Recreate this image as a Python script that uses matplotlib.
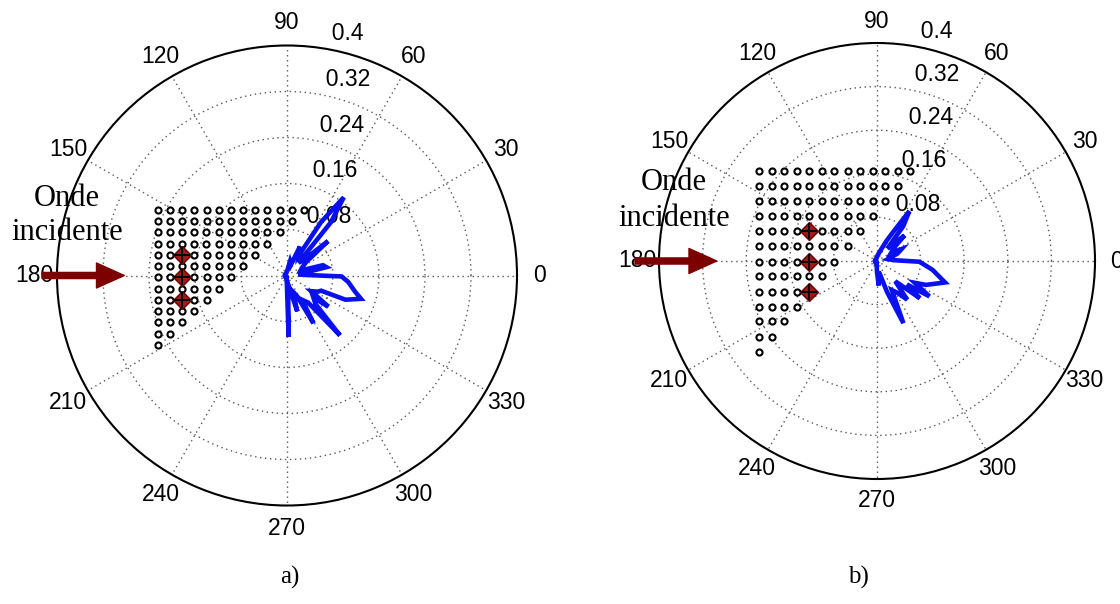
import numpy as np
import matplotlib
matplotlib.use("Agg")
import matplotlib.pyplot as plt
from matplotlib.patches import FancyArrowPatch

# ---------------- data ----------------
R_MAX = 0.4
ring_values = [0.08, 0.16, 0.24, 0.32]
ring_labels = ["0.08", "0.16", "0.24", "0.32", "0.4"]
angle_ticks = [0, 30, 60, 90, 120, 150, 180, 210, 240, 270, 300, 330]

# radiation pattern, panel a (angle in degrees, radius)
theta_a = [-100, -90, -88.5, -86, -80, -74, -70, -64, -61, -58, -52, -48.5, -45,
           -40, -37, -33, -28, -24, -22.5, -17.5, -13.5, -6, -1, 2, 6, 12, 16,
           20, 28, 35, 40, 43, 48, 50.5, 54, 57.5, 59.5, 66, 70, 78, 85, 100,
           140, 180, 220, 260]
r_a = [0.004, 0.02, 0.107, 0.03, 0.02, 0.065, 0.03, 0.04, 0.095, 0.05, 0.06,
       0.139, 0.07, 0.06, 0.09, 0.05, 0.06, 0.065, 0.11, 0.135, 0.122, 0.107,
       0.095, 0.03, 0.02, 0.07, 0.065, 0.025, 0.03, 0.04, 0.093, 0.04, 0.03,
       0.12, 0.168, 0.11, 0.04, 0.055, 0.02, 0.025, 0.01, 0.005, 0.004, 0.004,
       0.004, 0.004]

# radiation pattern, panel b
theta_b = [-100, -90, -86, -80, -72, -67, -63, -57, -52, -48, -41, -38, -34,
           -30, -26, -17.5, -9, -1, 3, 10, 20, 26, 30, 38, 43, 46, 50, 53, 57,
           61, 65, 72, 85, 100, 140, 180, 220, 260]
r_b = [0.004, 0.02, 0.045, 0.02, 0.06, 0.124, 0.06, 0.07, 0.09, 0.05, 0.104,
       0.07, 0.116, 0.08, 0.1, 0.131, 0.103, 0.078, 0.03, 0.02, 0.04, 0.05,
       0.03, 0.04, 0.069, 0.04, 0.03, 0.08, 0.109, 0.06, 0.04, 0.02, 0.01,
       0.005, 0.004, 0.004, 0.004, 0.004]

# receiver grid (cartesian positions), triangular layout: row j has 13-j points
grid_a_x = [-0.224, -0.203, -0.182, -0.161, -0.140, -0.118, -0.097, -0.076,
            -0.055, -0.034, -0.013, 0.008, 0.029]
grid_a_y = [0.114, 0.094, 0.075, 0.055, 0.036, 0.016, -0.003, -0.023, -0.042,
            -0.062, -0.081, -0.101, -0.121]
grid_b_x = [-0.216, -0.193, -0.170, -0.147, -0.124, -0.101, -0.078, -0.054,
            -0.031, -0.008, 0.015, 0.038, 0.061]
grid_b_y = [0.165, 0.137, 0.110, 0.082, 0.055, 0.027, -0.001, -0.028, -0.056,
            -0.084, -0.111, -0.139, -0.167]
row_counts = [13, 12, 11, 10, 9, 8, 7, 6, 5, 4, 3, 2, 1]
source_col_a = 2
source_col_b = 4
source_rows = [4, 6, 8]

# ---------------- figure ----------------
W, H = 1120, 604
fig = plt.figure(figsize=(W / 100, H / 100), dpi=100)

def px_axes(cx, cy, rad):
    return [(cx - rad) / W, 1 - (cy + rad) / H, 2 * rad / W, 2 * rad / H]

BLUE = "#0a10f0"
DARKRED = "#7d0000"
SANS = "Liberation Sans"
SERIF = "Liberation Serif"


def draw_panel(rect, theta, r, gx, gy, src_col, arrow_r):
    ax = fig.add_axes(rect, projection="polar")
    ax.set_ylim(0, R_MAX)
    ax.set_rgrids(ring_values, labels=[""] * len(ring_values))
    ax.set_thetagrids(angle_ticks, labels=[""] * len(angle_ticks))
    ax.grid(True, color="0.35", linestyle=(0, (1, 2.6)), linewidth=1.0)
    ax.spines["polar"].set_color("black")
    ax.spines["polar"].set_linewidth(1.5)
    ax.tick_params(length=0)

    # angle labels
    for a in angle_ticks:
        ax.text(np.deg2rad(a), 1.1 * R_MAX, str(a), ha="center", va="center",
                fontsize=16.5, family=SANS, clip_on=False)
    # radial labels
    for val, lab in zip(ring_values + [R_MAX], ring_labels):
        ax.text(np.deg2rad(82), val + 0.004, "  " + lab, ha="left",
                va="bottom", fontsize=16.5, family=SANS, clip_on=False)

    # receiver grid
    xs, ys = [], []
    for j, n in enumerate(row_counts):
        for i in range(n):
            xs.append(gx[i]); ys.append(gy[j])
    xs = np.array(xs); ys = np.array(ys)
    ax.plot(np.arctan2(ys, xs), np.hypot(xs, ys), "o", ms=4.4, mfc="white",
            mec="black", mew=1.5, ls="none", zorder=4)

    # sources
    sx = np.array([gx[src_col]] * len(source_rows))
    sy = np.array([gy[j] for j in source_rows])
    st, sr = np.arctan2(sy, sx), np.hypot(sx, sy)
    ax.plot(st, sr, "D", ms=9.5, mfc="#a01818", mec="#6a0000", mew=1.0,
            ls="none", zorder=5)
    ax.plot(st, sr, "+", ms=11, color="black", mew=1.4, ls="none", zorder=6)

    # pattern
    th = np.deg2rad(theta + [theta[0] + 360])
    rr = r + [r[0]]
    ax.plot(th, rr, color=BLUE, lw=3.3, zorder=7, solid_joinstyle="miter")

    # incident wave arrow
    arr = FancyArrowPatch((np.pi, arrow_r[0]), (np.pi, arrow_r[1]),
                          transform=ax.transData, clip_on=False,
                          arrowstyle="simple,head_length=1.0,head_width=0.9,tail_width=0.22",
                          mutation_scale=20, color=DARKRED, shrinkA=0,
                          shrinkB=0, zorder=8)
    ax.add_patch(arr)
    return ax


axa = draw_panel(px_axes(287, 275.5, 230), theta_a, r_a, grid_a_x, grid_a_y,
                 source_col_a, (0.426, 0.283))
axb = draw_panel(px_axes(877, 261, 218), theta_b, r_b, grid_b_x, grid_b_y,
                 source_col_b, (0.444, 0.294))

# annotations
for (x, y1, y2) in [(67, 198, 232), (674, 182, 218)]:
    fig.text(x / W, 1 - y1 / H, "Onde", ha="center", va="center",
             fontsize=22, family=SERIF)
    fig.text(x / W, 1 - y2 / H, "incidente", ha="center", va="center",
             fontsize=22, family=SERIF)

fig.text(290 / W, 1 - 577 / H, "a)", ha="center", va="center", fontsize=18,
         family=SERIF)
fig.text(858 / W, 1 - 577 / H, "b)", ha="center", va="center", fontsize=18,
         family=SERIF)

fig.savefig("out.png", dpi=100)
